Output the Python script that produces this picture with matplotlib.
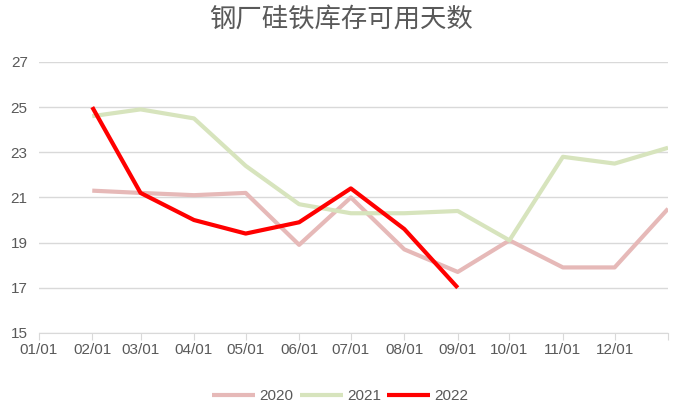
import pandas as pd
import matplotlib
matplotlib.use("Agg")
import matplotlib.pyplot as plt

# Month-start dates (plotted on a common year axis)
dates = pd.to_datetime(["2022-02-01", "2022-03-01", "2022-04-01", "2022-05-01",
                        "2022-06-01", "2022-07-01", "2022-08-01", "2022-09-01",
                        "2022-10-01", "2022-11-01", "2022-12-01", "2023-01-01"])

values_2020 = [21.3, 21.2, 21.1, 21.2, 18.9, 21.0, 18.7, 17.7, 19.1, 17.9, 17.9, 20.5]
values_2021 = [24.6, 24.9, 24.5, 22.4, 20.7, 20.3, 20.3, 20.4, 19.1, 22.8, 22.5, 23.2]
values_2022 = [25.0, 21.2, 20.0, 19.4, 19.9, 21.4, 19.6, 17.0]

series_names = ["2020", "2021", "2022"]
series_colors = ["#E6B9B8", "#D7E4BD", "#FF0000"]

tick_dates = pd.date_range("2022-01-01", "2023-01-01", freq="MS")
tick_labels = [d.strftime("%m/%d") for d in tick_dates[:-1]] + [""]

plt.rcParams['font.family'] = ['Liberation Sans', 'Noto Sans CJK SC', 'DejaVu Sans']

fig = plt.figure(figsize=(6.81, 4.05), dpi=100)
ax = fig.add_axes([0.057, 0.178, 0.924, 0.669])

ax.plot(dates, values_2020, color=series_colors[0], lw=3, label=series_names[0], solid_capstyle="butt")
ax.plot(dates, values_2021, color=series_colors[1], lw=3, label=series_names[1], solid_capstyle="butt")
ax.plot(dates[:len(values_2022)], values_2022, color=series_colors[2], lw=3,
        label=series_names[2], solid_capstyle="butt")

ax.set_xlim(tick_dates[0], tick_dates[-1])
ax.set_ylim(15, 27)
ax.set_yticks(range(15, 28, 2))
ax.set_xticks(tick_dates)
ax.set_xticklabels(tick_labels)
ax.grid(axis="y", color="#D9D9D9", lw=1)
ax.set_axisbelow(True)

for side in ["top", "right", "left"]:
    ax.spines[side].set_visible(False)
ax.spines["bottom"].set_color("#D9D9D9")
ax.tick_params(axis="y", length=0, labelsize=11, colors="#595959", pad=8)
ax.tick_params(axis="x", length=5, color="#D9D9D9", labelsize=11, colors="#595959", pad=2)

fig.suptitle("钢厂硅铁库存可用天数", y=0.985, fontsize=19, color="#595959",
             family=["Noto Sans CJK SC"])

fig.legend(loc="center", bbox_to_anchor=(0.5, 0.022), ncol=3, frameon=False,
           fontsize=11, labelcolor="#595959", handlelength=2.8, columnspacing=0.4,
           handletextpad=0.3, borderpad=0)

fig.savefig("out.png", dpi=100)
